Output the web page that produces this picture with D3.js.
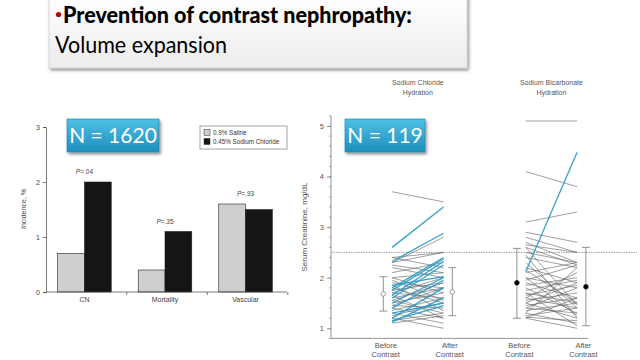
<!DOCTYPE html>
<html><head><meta charset="utf-8">
<script src="https://cdn.jsdelivr.net/npm/d3@7"></script>
<style>body{margin:0;background:#fff}svg{display:block}</style>
</head><body>
<svg id="c" width="640" height="360"></svg>
<script>
// ---------- data ----------
const titleLine1 = "Prevention of contrast nephropathy:";
const titleLine2 = "Volume expansion";

// Left chart
const barCategories = ["CN", "Mortality", "Vascular"];
const barSeries = ["0.9% Saline", "0.45% Sodium Chloride"];
const salineValues = [0.7, 0.4, 1.6];
const halfSalineValues = [2.0, 1.1, 1.5];
const pValues = ["P=.04", "P=.35", "P=.93"];
const barYTicks = [0, 1, 2, 3];
const leftN = "N = 1620";

// Right chart
const groups = ["Sodium Chloride", "Sodium Bicarbonate"];
const timepoints = ["Before", "After"];
const rightN = "N = 119";
const creatTicks = [1, 2, 3, 4, 5];
// [before, after, rose >=25%?]
const chlorideLines = [
 [3.7,3.5,0],[2.6,3.4,1],[2.32,2.88,1],[2.3,2.8,0],[2.4,2.5,0],[2.3,2.5,0],
 [2.4,2.2,0],[2.2,2.0,0],[2.1,2.3,0],[2.0,2.1,0],[1.8,2.4,1],[1.75,2.37,1],
 [1.65,2.32,1],[1.6,2.25,1],[1.5,2.0,1],[1.85,2.02,1],[1.4,1.95,1],[1.2,1.8,1],
 [1.12,1.6,1],[1.15,1.45,1],[1.3,1.5,1],[1.9,1.8,0],[1.8,1.5,0],[1.75,1.9,0],
 [1.7,1.6,0],[1.6,1.8,0],[1.55,1.3,0],[1.5,1.7,0],[1.45,1.4,0],[1.4,1.2,0],
 [1.35,1.6,0],[1.3,1.1,0],[1.25,1.5,0],[1.2,1.0,0],[1.15,1.3,0],[1.1,1.25,0],
 [2.0,1.7,0],[1.95,1.55,0],[2.25,2.1,0],[1.7,2.0,0],[1.65,1.2,0],[1.55,1.9,0],
 [1.45,1.8,0],[1.85,1.35,0]
];
const bicarbonateLines = [
 [5.1,5.1,0],[4.1,3.8,0],[3.1,3.3,0],[2.9,2.7,0],[2.8,2.5,0],[2.7,2.3,0],
 [2.6,2.25,0],[2.12,4.48,1],[2.65,2.5,0],[2.5,2.3,0],[2.4,2.2,0],[2.3,1.4,0],
 [2.2,1.9,0],[2.15,1.5,0],[2.1,2.3,0],[2.0,1.8,0],[1.95,2.25,0],[1.9,1.6,0],
 [1.85,2.0,0],[1.8,1.3,0],[1.75,1.95,0],[1.7,1.5,0],[1.65,1.85,0],[1.6,1.4,0],
 [1.55,1.7,0],[1.5,1.2,0],[1.45,1.6,0],[1.4,1.3,0],[1.35,1.5,0],[1.3,1.1,0],
 [1.25,1.4,0],[1.2,1.0,0],[1.22,1.15,0],[2.6,1.45,0],[2.45,1.2,0],[1.6,2.1,0],
 [1.4,1.8,0],[1.7,1.05,0],[2.0,1.25,0],[1.5,1.9,0],[1.3,2.2,0],[1.2,1.6,0]
];
// mean, low, high for each group/time
const summaryStats = [
 {g:"Sodium Chloride", t:"Before", mean:1.68, lo:1.34, hi:2.02, filled:false},
 {g:"Sodium Chloride", t:"After", mean:1.72, lo:1.25, hi:2.2, filled:false},
 {g:"Sodium Bicarbonate", t:"Before", mean:1.9, lo:1.2, hi:2.58, filled:true},
 {g:"Sodium Bicarbonate", t:"After", mean:1.82, lo:1.05, hi:2.6, filled:true}
];
const thresholdValue = 2.5;

// ---------- drawing ----------
const svg = d3.select("#c");
const defs = svg.append("defs");
const sh = defs.append("filter").attr("id","sh").attr("x","-10%").attr("y","-10%").attr("width","130%").attr("height","150%");
sh.append("feDropShadow").attr("dx",1.5).attr("dy",2).attr("stdDeviation",1.6).attr("flood-color","#000").attr("flood-opacity",0.45);
const tg = defs.append("linearGradient").attr("id","tg").attr("x1",0).attr("y1",0).attr("x2",0).attr("y2",1);
tg.append("stop").attr("offset","0%").attr("stop-color","#ffffff");
tg.append("stop").attr("offset","100%").attr("stop-color","#ececec");
const bg = defs.append("linearGradient").attr("id","bg").attr("x1",0).attr("y1",0).attr("x2",0).attr("y2",1);
bg.append("stop").attr("offset","0%").attr("stop-color","#4fc0e4");
bg.append("stop").attr("offset","100%").attr("stop-color","#1d8fbd");

// title box
svg.append("rect").attr("x",49).attr("y",-6).attr("width",418).attr("height",74)
  .attr("fill","url(#tg)").attr("stroke","#cfcfcf").attr("stroke-width",0.8).attr("filter","url(#sh)");
svg.append("circle").attr("cx",58.5).attr("cy",14.5).attr("r",2.6).attr("fill","#c00000");
svg.append("text").attr("x",63).attr("y",23).attr("font-family","Lato, 'Open Sans', sans-serif")
  .attr("font-size",23).attr("font-weight","900").attr("fill","#000")
  .attr("textLength",349).attr("lengthAdjust","spacingAndGlyphs").text(titleLine1);
svg.append("text").attr("x",55).attr("y",53).attr("font-family","Lato, 'Open Sans', sans-serif")
  .attr("font-size",23).attr("fill","#000").attr("textLength",172).attr("lengthAdjust","spacingAndGlyphs")
  .text(titleLine2);

const sf = "Liberation Sans, Arial, sans-serif";

// ---------- left bar chart ----------
const yL = d3.scaleLinear().domain([0,3]).range([292,127]);
const x0 = d3.scaleBand().domain(barCategories).range([46,284]).paddingInner(0.335).paddingOuter(0.145);
const x1 = d3.scaleBand().domain(barSeries).range([0,x0.bandwidth()]);
const barColor = d3.scaleOrdinal().domain(barSeries).range(["#cfcfcf","#151515"]);
const L = svg.append("g");
const barData = [];
barCategories.forEach((c,i)=>{
  barData.push({c, s:barSeries[0], v:salineValues[i]});
  barData.push({c, s:barSeries[1], v:halfSalineValues[i]});
});
L.selectAll("rect.bar").data(barData).join("rect").attr("class","bar")
  .attr("x",d=>x0(d.c)+x1(d.s)).attr("width",x1.bandwidth())
  .attr("y",d=>yL(d.v)).attr("height",d=>yL(0)-yL(d.v))
  .attr("fill",d=>barColor(d.s)).attr("stroke","#222").attr("stroke-width",0.6);
// axes
const yAxL = L.append("g").attr("transform","translate(46,0)")
  .call(d3.axisLeft(yL).tickValues(barYTicks).tickSize(3).tickFormat(d3.format("d")));
yAxL.selectAll("text").attr("font-family",sf).attr("font-size",7).attr("fill","#444");
yAxL.selectAll("path,line").attr("stroke","#444").attr("stroke-width",0.7);
const xAxL = L.append("g").attr("transform","translate(0,292)")
  .call(d3.axisBottom(x0).tickSize(0).tickPadding(5));
xAxL.select(".domain").attr("d","M46,0H287").attr("stroke","#444").attr("stroke-width",0.7);
xAxL.selectAll("text").attr("font-family",sf).attr("font-size",7).attr("fill","#444");
const gap = (x0.step()-x0.bandwidth())/2;
L.selectAll("line.bt").data(barCategories).join("line").attr("class","bt")
  .attr("x1",d=>x0(d)+x0.bandwidth()+gap+2).attr("x2",d=>x0(d)+x0.bandwidth()+gap+2)
  .attr("y1",292).attr("y2",295).attr("stroke","#444").attr("stroke-width",0.7);
// p values
L.selectAll("text.pv").data(barCategories).join("text").attr("class","pv")
  .attr("x",d=>x0(d)+x0.bandwidth()/2)
  .attr("y",(d,i)=>yL(Math.max(salineValues[i],halfSalineValues[i]))-8)
  .attr("text-anchor","middle").attr("font-family",sf).attr("font-size",6.5).attr("fill","#444")
  .each(function(d,i){
    const s = d3.select(this);
    s.append("tspan").attr("font-style","italic").text("P");
    s.append("tspan").text(pValues[i].slice(1));
  });
// y label
L.append("text").attr("transform","translate(26,209) rotate(-90)").attr("text-anchor","middle")
  .attr("font-family",sf).attr("font-size",7).attr("fill","#444").text("Incidence, %");
// legend
const lg = L.append("g").attr("transform","translate(200,126)");
lg.append("rect").attr("width",87).attr("height",23).attr("fill","#fff").attr("stroke","#666").attr("stroke-width",0.6);
barSeries.forEach((s,i)=>{
  lg.append("rect").attr("x",4).attr("y",3.5+i*9).attr("width",6).attr("height",6)
    .attr("fill",barColor(s)).attr("stroke","#333").attr("stroke-width",0.5);
  lg.append("text").attr("x",13).attr("y",9+i*9).attr("font-family",sf).attr("font-size",6.3)
    .attr("fill","#333").text(s);
});
// N box
function nBox(x,y,w,h,label){
  svg.append("rect").attr("x",x).attr("y",y).attr("width",w).attr("height",h)
    .attr("fill","url(#bg)").attr("stroke","#1b7fa8").attr("stroke-width",0.6).attr("filter","url(#sh)");
  svg.append("text").attr("x",x+w/2).attr("y",y+h/2+7.5).attr("text-anchor","middle")
    .attr("font-family","Lato, 'Open Sans', sans-serif").attr("font-size",21).attr("fill","#fff").text(label);
}
nBox(67,119,92,33,leftN);

// ---------- right chart ----------
const yR = d3.scaleLinear().domain([0.8,5.2]).range([338.4,115.9]);
const xG = d3.scalePoint().domain(groups).range([417.8,551.4]);
const xT = d3.scalePoint().domain(timepoints).range([-25.7,25.7]);
const R = svg.append("g");
// threshold
R.append("line").attr("x1",331).attr("x2",637).attr("y1",yR(thresholdValue)).attr("y2",yR(thresholdValue))
  .attr("stroke","#777").attr("stroke-width",0.7).attr("stroke-dasharray","1.5,1");
// axes
const yAxR = R.append("g").attr("transform","translate(331,0)")
  .call(d3.axisLeft(yR).tickValues(creatTicks).tickSize(4).tickFormat(d3.format("d")));
yAxR.select(".domain").attr("d","M0,"+yR(5.2)+"V"+yR(0.8));
yAxR.selectAll("text").attr("font-family",sf).attr("font-size",7.5).attr("fill","#555");
yAxR.selectAll("path,line").attr("stroke","#666").attr("stroke-width",0.7);
R.selectAll("line.mt").data(d3.range(0.8,5.21,0.2)).join("line").attr("class","mt")
  .attr("x1",329).attr("x2",331).attr("y1",d=>yR(d)).attr("y2",d=>yR(d)).attr("stroke","#666").attr("stroke-width",0.5);
R.append("line").attr("x1",331).attr("x2",588).attr("y1",yR(0.8)).attr("y2",yR(0.8)).attr("stroke","#666").attr("stroke-width",0.7);
// lines
function drawLines(data,g){
  const xb = xG(g)+xT("Before"), xa = xG(g)+xT("After");
  const sorted = data.slice().sort((a,b)=>a[2]-b[2]);
  R.append("g").selectAll("line").data(sorted).join("line")
    .attr("x1",xb).attr("x2",xa).attr("y1",d=>yR(d[0])).attr("y2",d=>yR(d[1]))
    .attr("stroke",d=>d[2]?"#2b9cc6":"#5f5f5f")
    .attr("stroke-width",d=>d[2]?1.3:0.8)
    .attr("stroke-opacity",d=>d[2]?0.95:0.75);
}
drawLines(chlorideLines,groups[0]);
drawLines(bicarbonateLines,groups[1]);
// summary bars
const statX = d => xG(d.g) + (d.t==="Before" ? -34.5 : 34.5);
const sg = R.append("g").selectAll("g").data(summaryStats).join("g");
sg.append("line").attr("x1",statX).attr("x2",statX).attr("y1",d=>yR(d.lo)).attr("y2",d=>yR(d.hi))
  .attr("stroke","#777").attr("stroke-width",0.8);
sg.append("line").attr("x1",d=>statX(d)-4).attr("x2",d=>statX(d)+4).attr("y1",d=>yR(d.lo)).attr("y2",d=>yR(d.lo))
  .attr("stroke","#777").attr("stroke-width",0.8);
sg.append("line").attr("x1",d=>statX(d)-4).attr("x2",d=>statX(d)+4).attr("y1",d=>yR(d.hi)).attr("y2",d=>yR(d.hi))
  .attr("stroke","#777").attr("stroke-width",0.8);
sg.append("circle").attr("cx",statX).attr("cy",d=>yR(d.mean)).attr("r",2.3)
  .attr("fill",d=>d.filled?"#000":"#fff").attr("stroke",d=>d.filled?"#000":"#777").attr("stroke-width",0.7);
// headers
groups.forEach(g=>{
  const t = R.append("text").attr("x",xG(g)).attr("y",85).attr("text-anchor","middle")
    .attr("font-family",sf).attr("font-size",7).attr("fill","#555");
  t.append("tspan").attr("x",xG(g)).text(g);
  t.append("tspan").attr("x",xG(g)).attr("dy",9.5).text("Hydration");
  timepoints.forEach(tp=>{
    const lx = xG(g) + (tp==="Before" ? -32 : 32);
    const tt = R.append("text").attr("x",lx).attr("y",348).attr("text-anchor","middle")
      .attr("font-family",sf).attr("font-size",7.5).attr("fill","#555");
    tt.append("tspan").attr("x",lx).text(tp);
    tt.append("tspan").attr("x",lx).attr("dy",9).text("Contrast");
  });
});
R.append("text").attr("transform","translate(307,227) rotate(-90)").attr("text-anchor","middle")
  .attr("font-family",sf).attr("font-size",8).attr("fill","#555").text("Serum Creatinine, mg/dL");
nBox(345,119,80,33,rightN);
</script>
</body></html>
